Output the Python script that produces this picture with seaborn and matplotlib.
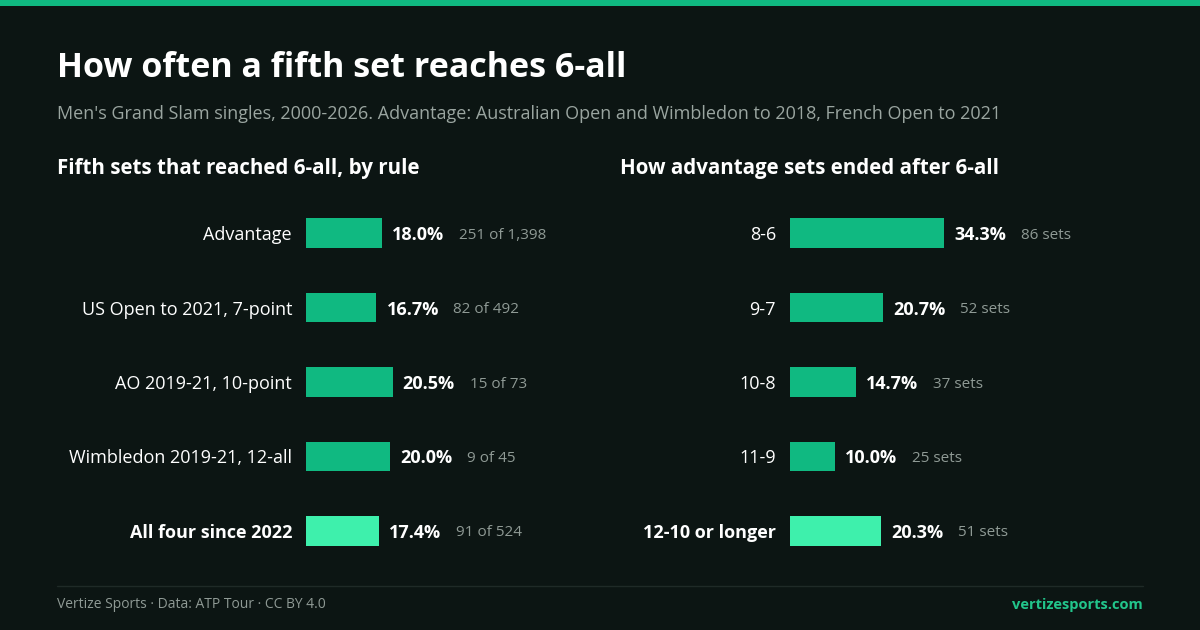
import matplotlib
matplotlib.use("Agg")
import matplotlib.pyplot as plt
import matplotlib.transforms as mtrans
import seaborn as sb
import pandas as pd

sb.set_style("dark")
plt.rcParams['font.family'] = ['Open Sans', 'DejaVu Sans']

BG = "#0c1513"
BAR = "#10b981"
HI = "#3ef0ac"
GREY = "#8f9a95"

rule_labels = ["Advantage", "US Open to 2021, 7-point", "AO 2019-21, 10-point",
               "Wimbledon 2019-21, 12-all", "All four since 2022"]
rule_pct = [18.0, 16.7, 20.5, 20.0, 17.4]
rule_detail = ["251 of 1,398", "82 of 492", "15 of 73", "9 of 45", "91 of 524"]

end_labels = ["8-6", "9-7", "10-8", "11-9", "12-10 or longer"]
end_pct = [34.3, 20.7, 14.7, 10.0, 20.3]
end_detail = ["86 sets", "52 sets", "37 sets", "25 sets", "51 sets"]

fig = plt.figure(figsize=(12, 6.3), dpi=100)
fig.patch.set_facecolor(BG)

# top stripe and footer rule
fig.add_artist(plt.Rectangle((0, 1 - 6 / 630), 1, 6 / 630, transform=fig.transFigure, color=BAR, lw=0))
fig.add_artist(plt.Line2D([57 / 1200, 1143 / 1200], [1 - 586 / 630] * 2, transform=fig.transFigure,
                          color="#1f2a27", lw=1))

fig.text(57 / 1200, 1 - 68 / 630, "How often a fifth set reaches 6-all", color="white",
         fontsize=24.5, fontweight="bold", va="center")
fig.text(57 / 1200, 1 - 114 / 630,
         "Men's Grand Slam singles, 2000-2026. Advantage: Australian Open and Wimbledon to 2018, French Open to 2021",
         color="#9aa5a0", fontsize=13, va="center")
fig.text(57 / 1200, 1 - 169 / 630, "Fifth sets that reached 6-all, by rule", color="white",
         fontsize=14.8, fontweight="bold", va="center")
fig.text(620 / 1200, 1 - 169 / 630, "How advantage sets ended after 6-all", color="white",
         fontsize=14.8, fontweight="bold", va="center")
fig.text(57 / 1200, 1 - 605 / 630, "Vertize Sports · Data: ATP Tour · CC BY 4.0", color=GREY,
         fontsize=10, va="center")
fig.text(1143 / 1200, 1 - 605 / 630, "vertizesports.com", color="#22c58b",
         fontsize=10.5, fontweight="bold", va="center", ha="right")


def panel(left_px, px_per_pct, labels, pct, detail):
    ax = fig.add_axes([left_px / 1200, 1 - 568 / 630, px_per_pct * 40 / 1200, 372 / 630])
    df = pd.DataFrame({"label": labels, "pct": pct})
    colors = [BAR] * (len(labels) - 1) + [HI]
    sb.barplot(data=df, x="pct", y="label", hue="label", palette=colors, legend=False,
               width=0.4, ax=ax, saturation=1)
    for p in ax.patches:
        p.set_linewidth(0)
    ax.set_xlim(0, 40)
    ax.set_ylim(len(labels) - 0.5, -0.5)
    ax.axis("off")
    for i, (lab, v, d) in enumerate(zip(labels, pct, detail)):
        last = i == len(labels) - 1
        t_lab = mtrans.offset_copy(ax.transData, fig=fig, x=-14, y=-2, units="dots")
        ax.text(0, i, lab, transform=t_lab, ha="right", va="center", color="white",
                fontsize=13, fontweight="bold" if last else "normal")
        t_val = mtrans.offset_copy(ax.transData, fig=fig, x=10, y=-2, units="dots")
        ax.text(v, i, f"{v:.1f}%", transform=t_val, ha="left", va="center", color="white",
                fontsize=13, fontweight="bold")
        t_det = mtrans.offset_copy(ax.transData, fig=fig, x=77, y=-2, units="dots")
        ax.text(v, i, d, transform=t_det, ha="left", va="center", color=GREY, fontsize=11)


panel(306, 4.22, rule_labels, rule_pct, rule_detail)
panel(790, 4.49, end_labels, end_pct, end_detail)

fig.savefig("out.png", dpi=100, facecolor=BG)
